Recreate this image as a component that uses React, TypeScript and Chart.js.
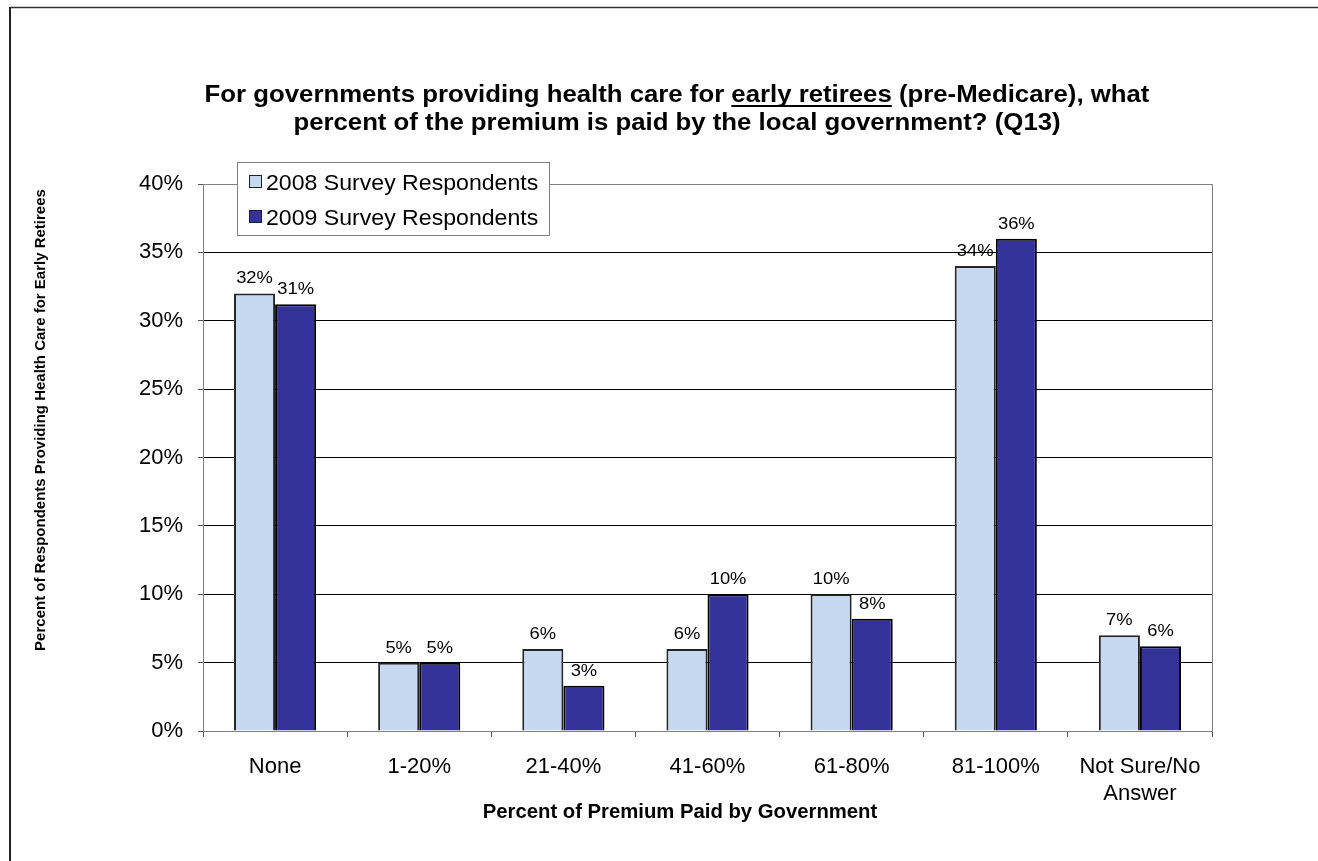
import React, { useEffect, useRef } from 'react';
import { Chart, registerables } from 'chart.js';

Chart.register(...registerables);

// ---------- data ----------
const categories: (string | string[])[] = ['None', '1-20%', '21-40%', '41-60%', '61-80%', '81-100%', ['Not Sure/No', 'Answer']];
const seriesNames = ['2008 Survey Respondents', '2009 Survey Respondents'];
const values2008 = [32, 5, 6, 6, 10, 34, 7];
const values2009 = [31.2, 5, 3.3, 10, 8.2, 36, 6.2];
const yMin = 0;
const yMax = 40;
const yStep = 5;
const titleLine1Parts = ['For governments providing health care for ', 'early retirees', ' (pre-Medicare), what'];
const titleLine2 = 'percent of the premium is paid by the local government? (Q13)';
const xTitle = 'Percent of Premium Paid by Government';
const yTitle = 'Percent of Respondents Providing Health Care for Early Retirees';

// ---------- styles ----------
const FONT = "Arial, 'Liberation Sans', sans-serif";
const COLOR_2008 = '#C6D9F0';
const COLOR_2009 = '#333399';
const AXIS_GRAY = '#808080';

function drawText(ctx: CanvasRenderingContext2D, text: string, x: number, y: number, font: string, align: CanvasTextAlign, sx = 1) {
  ctx.save();
  ctx.translate(x, y);
  ctx.scale(sx, 1);
  ctx.font = font;
  ctx.textAlign = align;
  ctx.textBaseline = 'alphabetic';
  ctx.fillStyle = '#000';
  ctx.fillText(text, 0, 0);
  ctx.restore();
}

const decorPlugin = {
  id: 'decor',
  afterDatasetsDraw(chart: any) {
    const ctx: CanvasRenderingContext2D = chart.ctx;
    const labelFont = `17px ${FONT}`;
    chart.data.datasets.forEach((ds: any, di: number) => {
      const meta = chart.getDatasetMeta(di);
      meta.data.forEach((bar: any, i: number) => {
        const v = ds.data[i] as number;
        drawText(ctx, `${Math.round(v)}%`, bar.x, bar.y - 10, labelFont, 'center', 1.08);
      });
    });
  },
  afterDraw(chart: any) {
    const ctx: CanvasRenderingContext2D = chart.ctx;
    const area = chart.chartArea;

    // outer frame (top & left visible)
    ctx.save();
    ctx.strokeStyle = '#333';
    ctx.lineWidth = 1.5;
    ctx.beginPath();
    ctx.moveTo(10, 7.5);
    ctx.lineTo(chart.width, 7.5);
    ctx.stroke();
    ctx.lineWidth = 2;
    ctx.strokeStyle = '#222';
    ctx.beginPath();
    ctx.moveTo(10, 7);
    ctx.lineTo(10, chart.height);
    ctx.stroke();
    ctx.restore();

    // right plot border
    ctx.save();
    ctx.strokeStyle = AXIS_GRAY;
    ctx.lineWidth = 1;
    ctx.beginPath();
    ctx.moveTo(Math.round(area.right) + 0.5, area.top);
    ctx.lineTo(Math.round(area.right) + 0.5, area.bottom);
    ctx.stroke();
    ctx.restore();

    // title
    const tFont = `bold 23px ${FONT}`;
    const tsx = 1.12;
    const cx = 677;
    ctx.save();
    ctx.font = tFont;
    const widths = titleLine1Parts.map((p) => ctx.measureText(p).width * tsx);
    ctx.restore();
    const total = widths.reduce((a, b) => a + b, 0);
    let x = cx - total / 2;
    const base1 = 102;
    titleLine1Parts.forEach((p, i) => {
      drawText(ctx, p, x, base1, tFont, 'left', tsx);
      if (i === 1) {
        ctx.save();
        ctx.fillStyle = '#000';
        ctx.fillRect(x, base1 + 3, widths[i], 2);
        ctx.restore();
      }
      x += widths[i];
    });
    drawText(ctx, titleLine2, cx, 130, tFont, 'center', tsx);

    // axis titles
    drawText(ctx, xTitle, 680, 818, `bold 20.3px ${FONT}`, 'center', 1.0);
    ctx.save();
    ctx.translate(45, 420);
    ctx.rotate(-Math.PI / 2);
    ctx.font = `bold 15px ${FONT}`;
    ctx.textAlign = 'center';
    ctx.textBaseline = 'alphabetic';
    ctx.fillStyle = '#000';
    ctx.fillText(yTitle, 0, 0);
    ctx.restore();

    // legend
    const lx = area.left + 34;
    const ly = area.top - 22;
    const lw = 312;
    const lh = 73;
    ctx.save();
    ctx.fillStyle = '#fff';
    ctx.fillRect(lx, ly, lw, lh);
    ctx.strokeStyle = AXIS_GRAY;
    ctx.lineWidth = 1;
    ctx.strokeRect(Math.round(lx) + 0.5, Math.round(ly) + 0.5, lw, lh);
    ctx.restore();
    const colors = [COLOR_2008, COLOR_2009];
    seriesNames.forEach((name, i) => {
      const base = ly + 28 + i * 35;
      ctx.save();
      ctx.fillStyle = colors[i];
      ctx.fillRect(lx + 12, base - 15, 13, 13);
      ctx.strokeStyle = '#222';
      ctx.lineWidth = 1;
      ctx.strokeRect(lx + 12.5, base - 14.5, 12, 12);
      ctx.restore();
      drawText(ctx, name, lx + 29, base, `22px ${FONT}`, 'left', 1.05);
    });
  },
};

export default function App() {
  const ref = useRef<HTMLCanvasElement>(null);

  useEffect(() => {
    const canvas = ref.current;
    if (!canvas) return;
    const chart = new Chart(canvas, {
      type: 'bar',
      data: {
        labels: categories as any,
        datasets: [
          {
            label: seriesNames[0],
            data: values2008,
            backgroundColor: COLOR_2008,
            borderColor: '#262626',
            borderWidth: 2,
            barPercentage: 1,
            categoryPercentage: 0.57,
          },
          {
            label: seriesNames[1],
            data: values2009,
            backgroundColor: COLOR_2009,
            borderColor: '#000',
            borderWidth: 2,
            barPercentage: 1,
            categoryPercentage: 0.57,
          },
        ],
      },
      options: {
        responsive: false,
        animation: false,
        layout: { padding: { top: 184, right: 106, left: 0, bottom: 0 } },
        plugins: {
          legend: { display: false },
          title: { display: false },
          tooltip: { enabled: false },
        },
        scales: {
          x: {
            grid: {
              offset: true,
              drawOnChartArea: false,
              drawTicks: true,
              tickLength: 6,
              color: '#555',
              tickColor: '#555',
            },
            border: { color: AXIS_GRAY, width: 1 },
            ticks: {
              color: '#000',
              font: { family: FONT, size: 22 },
              padding: 17,
              maxRotation: 0,
              autoSkip: false,
            },
            afterFit: (s: any) => {
              s.height = 130;
            },
          },
          y: {
            min: yMin,
            max: yMax,
            grid: {
              color: (c: any) => (c.tick && (c.tick.value === yMin || c.tick.value === yMax) ? AXIS_GRAY : '#000'),
              tickColor: '#555',
              tickLength: 5,
              lineWidth: 1,
            },
            border: { color: AXIS_GRAY, width: 1 },
            ticks: {
              stepSize: yStep,
              color: '#000',
              font: { family: FONT, size: 22 },
              padding: 15,
              callback: (v: any) => `${v}%`,
            },
            afterFit: (s: any) => {
              s.width = 203;
            },
          },
        },
      },
      plugins: [decorPlugin],
    });
    return () => chart.destroy();
  }, []);

  return (
    <div style={{ position: 'fixed', left: 0, top: 0, width: 1318, height: 861, background: '#fff' }}>
      <canvas ref={ref} width={1318} height={861} style={{ display: 'block', width: 1318, height: 861 }} />
    </div>
  );
}
